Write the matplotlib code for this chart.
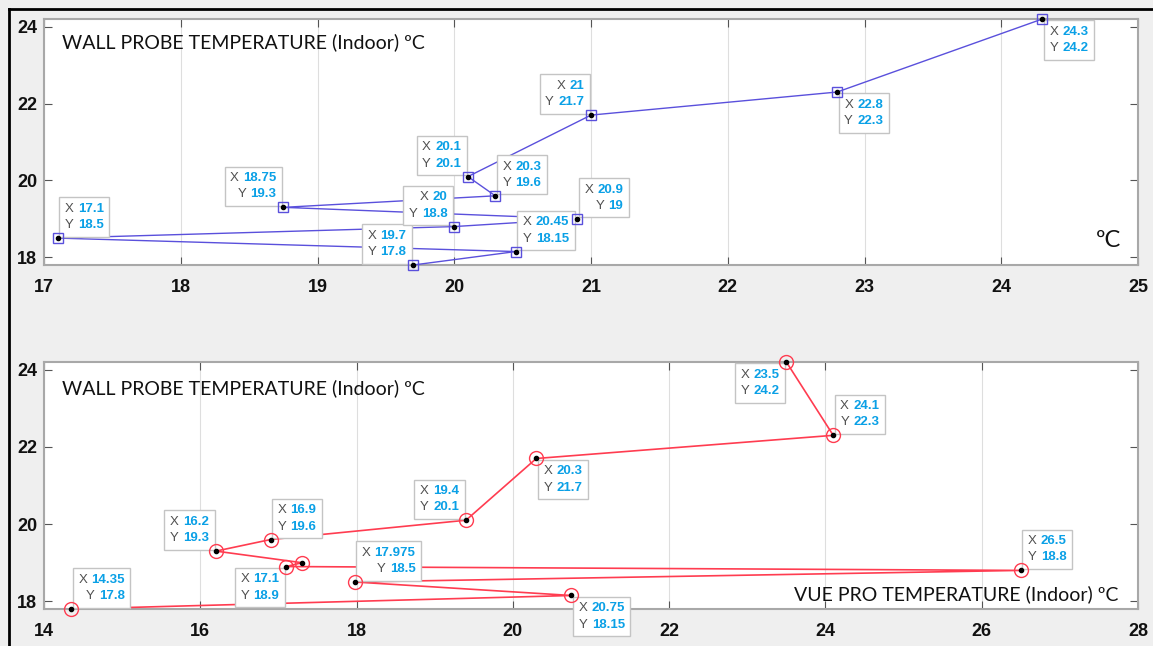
import matplotlib
matplotlib.use('Agg')
import matplotlib.pyplot as plt
from matplotlib.offsetbox import TextArea, HPacker, VPacker, AnnotationBbox
from matplotlib.lines import Line2D

# wall probe (y) against two x series, ordered by wall probe temperature
wall_top = [17.8, 18.15, 18.5, 18.8, 19, 19.3, 19.6, 20.1, 21.7, 22.3, 24.2]
probe_x = [19.7, 20.45, 17.1, 20, 20.9, 18.75, 20.3, 20.1, 21, 22.8, 24.3]

wall_bot = [17.8, 18.15, 18.5, 18.8, 18.9, 19.0, 19.3, 19.6, 20.1, 21.7, 22.3, 24.2]
vue_x = [14.35, 20.75, 17.975, 26.5, 17.1, 17.3, 16.2, 16.9, 19.4, 20.3, 24.1, 23.5]

top_xticks = [17, 18, 19, 20, 21, 22, 23, 24, 25]
bot_xticks = [14, 16, 18, 20, 22, 24, 26, 28]
yticks = [18, 20, 22, 24]

# where each datatip box sits relative to its point (None = no tip)
top_dirs = [(-1, 1), (1, 1), (1, 1), (-1, 1), (1, 1), (-1, 1), (1, 1), (-1, 1), (-1, 1), (1, -1), (1, -1)]
bot_dirs = [(1, 1), (1, -1), (1, 1), (1, 1), (-1, -1), None, (-1, 1), (1, 1), (-1, 1), (1, -1), (1, 1), (-1, -1)]

BG = '#efefef'
BLUE_TXT = '#0aa0e6'
W, H = 1153, 646

fig = plt.figure(figsize=(W / 100, H / 100), dpi=100, facecolor=BG)
ax1 = fig.add_axes([44 / W, 1 - 265 / H, 1094 / W, 246 / H])
ax2 = fig.add_axes([44 / W, 1 - 609 / H, 1094 / W, 247 / H])

# outer frame (top and left only are visible in the source)
fig.add_artist(Line2D([9 / W, 9 / W], [0, 1 - 9 / H], color='black', lw=2, transform=fig.transFigure))
fig.add_artist(Line2D([9 / W, 1], [1 - 9 / H, 1 - 9 / H], color='black', lw=2, transform=fig.transFigure))


def datatip(ax, x, y, d):
    rows = []
    for name, v in (('X', x), ('Y', y)):
        a = TextArea(name, textprops=dict(color='#505050', fontsize=9.5, family='Liberation Sans'))
        b = TextArea(f'{v:g}', textprops=dict(color=BLUE_TXT, fontsize=9.5, weight='bold',
                                              family='Liberation Sans'))
        rows.append(HPacker(children=[a, b], align='baseline', pad=0, sep=3))
    box = VPacker(children=rows, align='right', pad=0, sep=3)
    sx, sy = d
    align = (0 if sx > 0 else 1, 0 if sy > 0 else 1)
    ab = AnnotationBbox(box, (x, y), xybox=(sx * 5, sy * 5), boxcoords='offset points',
                        box_alignment=align, frameon=True, pad=0.4,
                        bboxprops=dict(fc='white', ec='#c4c4c4', lw=1), zorder=4,
                        annotation_clip=False)
    ax.add_artist(ab)


def style(ax, xticks, xlim):
    ax.set_facecolor('white')
    ax.set_xlim(*xlim)
    ax.set_ylim(17.8, 24.2)
    ax.set_xticks(xticks)
    ax.set_yticks(yticks)
    ax.grid(axis='x', color='#dedede', lw=0.8)
    ax.set_axisbelow(True)
    ax.tick_params(direction='in', top=True, right=True, length=6, color='#555555',
                   labelsize=13)
    ax.tick_params(axis='x', pad=10)
    ax.tick_params(axis='y', pad=5)
    for lab in ax.get_xticklabels() + ax.get_yticklabels():
        lab.set_fontweight('bold')
        lab.set_family('Liberation Sans')
        lab.set_color('#111111')
    for s in ax.spines.values():
        s.set_color('#a8a8a8')
        s.set_linewidth(1.5)


style(ax1, top_xticks, (17, 25))
style(ax2, bot_xticks, (14, 28))

ax1.plot(probe_x, wall_top, color='#5a50dc', lw=1, zorder=3)
ax1.plot(probe_x, wall_top, ls='none', marker='s', ms=7, mfc='none', mec='#5a50dc', mew=1,
         zorder=5, clip_on=False)
ax1.plot(probe_x, wall_top, ls='none', marker='o', ms=3, color='black', zorder=6, clip_on=False)

ax2.plot(vue_x, wall_bot, color='#ff3c50', lw=1.2, zorder=3)
ax2.plot(vue_x, wall_bot, ls='none', marker='o', ms=10, mfc='none', mec='#ff3c50', mew=1,
         zorder=5, clip_on=False)
ax2.plot(vue_x, wall_bot, ls='none', marker='o', ms=3, color='black', zorder=6, clip_on=False)

for x, y, d in zip(probe_x, wall_top, top_dirs):
    datatip(ax1, x, y, d)
for x, y, d in zip(vue_x, wall_bot, bot_dirs):
    if d is not None:
        datatip(ax2, x, y, d)

txt = dict(family='Lato', fontsize=14, color='#111111', va='center')
fig.text(62 / W, 1 - 42 / H, 'WALL PROBE TEMPERATURE (Indoor) ºC', ha='left', **txt)
fig.text(62 / W, 1 - 388 / H, 'WALL PROBE TEMPERATURE (Indoor) ºC', ha='left', **txt)
fig.text(1118 / W, 1 - 594 / H, 'VUE PRO TEMPERATURE (Indoor) ºC', ha='right', **txt)
fig.text(1121 / W, 1 - 240 / H, 'ºC', ha='right', family='Lato', fontsize=17,
         color='#111111', va='center')

fig.savefig('out.png', dpi=100, facecolor=BG)
